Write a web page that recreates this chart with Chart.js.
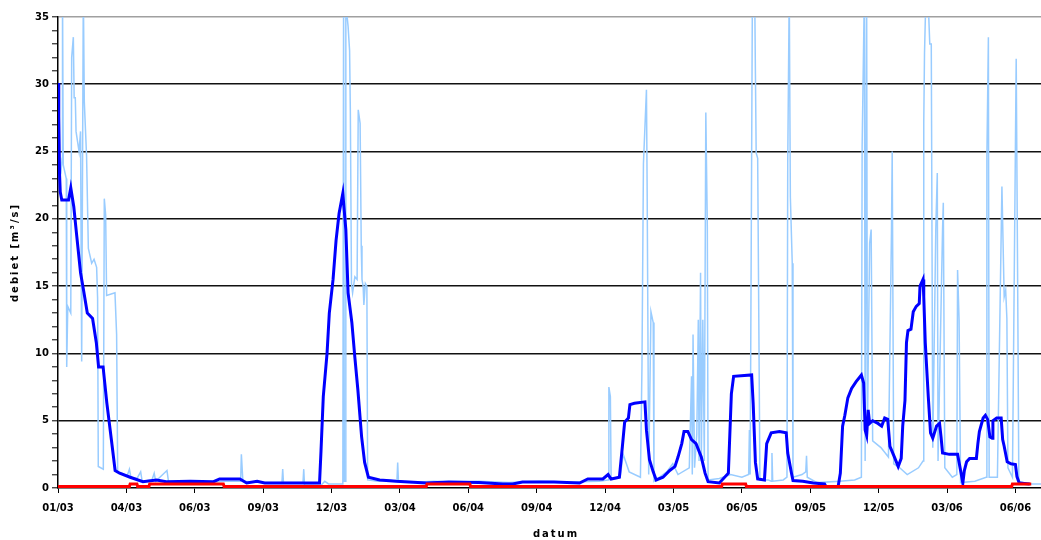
<!DOCTYPE html>
<html>
<head>
<meta charset="utf-8">
<script src="https://cdn.jsdelivr.net/npm/chart.js@4.4.1/dist/chart.umd.min.js"></script>
<style>
    html, body { margin: 0; padding: 0; background: #fff; }
    #wrap { width: 1041px; height: 540px; position: relative; }
</style>
</head>
<body>
<div id="wrap"><canvas id="chart"></canvas></div>
<script>
// x = days since 01/03, y = debiet in m3/s
const tickLabels = ['01/03','04/03','06/03','09/03','12/03','03/04','06/04','09/04','12/04','03/05','06/05','09/05','12/05','03/06','06/06'];
const tickStep = 91;
const xMax = 1308;

// daily measured flow (light blue)
const dailyFlow = [
    [0,24],[4,23.5],[5.5,24.5],[6,37],[7,24],[11,23],[11.6,9],[13,13.5],[17,13],[18.2,32],[20.4,33.5],[21.5,29],[23,29],
    [24,26.5],[28,25],[30,26.5],[31.5,9.4],[33.7,37],[35,28.7],[38,24.7],[40.4,17.8],[44.8,16.7],[48,17],[51.4,16.4],
    [52.7,14.1],[53.6,1.6],[60.3,1.4],[61.6,21.5],[63.4,20.3],[64.7,14.3],[75.8,14.5],[78,11.4],[79.4,1.2],
    [85,1.1],[92,0.9],[95,1.4],[97,0.8],[105,0.7],[110,1.2],[112,0.5],[125,0.6],[128,1.1],[130,0.5],[145,1.3],[147,0.5],
    [165,0.4],[185,0.5],[200,0.4],[220,0.5],[243,0.5],[244,2.5],[246,0.5],[270,0.4],[298,0.4],[299,1.4],[300,0.4],
    [326,0.4],[327,1.4],[328,0.2],[350,0.2],[355,0.5],[360,0.3],[379,0.3],[380,36],[381,0.5],[382.5,0.5],[383,36],
    [386,34.3],[388,32.5],[389,28],[390.5,15.2],[392,14.5],[395,15.7],[398,15.5],[399.5,28.1],[402,27.1],[403.5,18],
    [404.5,15.5],[406,15],[407,13.6],[409,15.2],[411,15],[412,0.6],[425,0.5],[440,0.6],[451,0.5],[452,1.9],[453,0.5],
    [470,0.4],[500,0.5],[530,0.4],[560,0.5],[600,0.4],[640,0.5],[680,0.45],[720,0.5],[732,0.6],[733,7.5],[735,6.8],
    [736,0.7],[748,0.8],[752,2.5],[760,1.2],[775,0.8],[777,8.9],[779,24.1],[783,29.6],[784,21.6],[786,1.0],[789,13.1],
    [792,12.3],[793,0.5],[810,1.2],[818,1.8],[825,1.0],[840,1.5],[843,8.3],[844,1],[845,11.4],[847,1.5],[850,4],
    [852,12.5],[853,2],[855,16.0],[856,2],[858,12.5],[860,2],[862,27.9],[864,19.4],[865,0.6],[880,0.7],[895,1.0],
    [910,0.8],[919,1],[920,4.3],[921,1],[924,37],[927,37],[928,30.8],[929,24.9],[931,24.5],[934,0.6],[945,0.6],
    [949,0.5],[950,2.6],[951,0.5],[965,0.6],[970,0.8],[971,24.1],[973,37],[974.5,21.6],[977,16.7],[978,0.8],[990,1.0],
    [995,1.2],[996,2.4],[997,0.8],[1010,0.4],[1040,0.5],[1060,0.6],[1069,0.8],[1070,25.4],[1073,37],[1074,2],[1076,37],
    [1077,4],[1080,18.2],[1082,19.2],[1084,3.5],[1095,3.0],[1105,2.3],[1109,18.9],[1110,25.0],[1112,1.8],[1120,1.5],
    [1130,1.0],[1145,1.5],[1151,2],[1152,27.1],[1153,32.3],[1155,37],[1158,36],[1160,33],[1162,33],[1164,3],[1168,19.2],
    [1170,23.4],[1171,2],[1177,19.2],[1178,21.2],[1180,1.5],[1190,0.8],[1196,1],[1197,16.2],[1199,12.5],[1201,0.4],
    [1220,0.5],[1235,0.8],[1236,24.6],[1238,33.5],[1239,0.8],[1250,0.8],[1256,22.4],[1259,14.2],[1261,14.7],
    [1262.6,12.6],[1264,1.5],[1270,0.8],[1275,31.9],[1277,14.7],[1278.5,0.5],[1290,0.3],[1308,0.3]
];

// smoothed flow (dark blue)
const smoothFlow = [
    [0,30.1],[1,27.6],[2,23.4],[3,22.0],[5,21.4],[14,21.4],[17,22.3],[21,20.9],[25,18.7],[30,16.0],[34,14.7],[39,13.0],
    [46,12.6],[51,10.8],[54,9.0],[60,9.0],[65,6.3],[71,3.6],[76,1.3],[82,1.1],[96,0.8],[113,0.47],[131,0.6],[144,0.47],
    [176,0.5],[207,0.47],[215,0.67],[242,0.67],[251,0.37],[265,0.5],[275,0.37],[348,0.37],[350,2.8],[353,6.8],[358,10],
    [361,13],[366,15.5],[370,18.4],[374,20.4],[379,21.9],[380,21.2],[383,19.2],[386,14.5],[391,12.3],[395,9.7],[399,7.3],
    [404,3.8],[408,1.9],[413,0.8],[428,0.6],[450,0.5],[490,0.37],[520,0.45],[560,0.4],[592,0.3],[605,0.3],[618,0.45],
    [660,0.45],[694,0.37],[705,0.67],[725,0.67],[732,1.0],[736,0.67],[747,0.8],[751,3.1],[754,4.9],[759,5.2],[761,6.2],
    [767,6.3],[781,6.4],[783,4.3],[787,2.1],[792,1.2],[796,0.6],[805,0.8],[814,1.3],[821,1.6],[825,2.3],[830,3.3],
    [833,4.2],[838,4.2],[843,3.6],[849,3.3],[856,2.3],[861,1.1],[865,0.47],[880,0.37],[892,1.1],[896,7.0],[899,8.3],
    [923,8.4],[925,6.3],[928,1.9],[931,0.67],[940,0.6],[943,3.3],[949,4.1],[960,4.2],[969,4.1],[971,2.6],[976,1.1],
    [978,0.55],[991,0.5],[1005,0.37],[1020,0.3],[1022,0.1],[1038,0.1],[1041,1.1],[1044,4.6],[1047,5.4],[1051,6.7],
    [1056,7.4],[1062,7.9],[1069,8.4],[1072,7.8],[1074,4.3],[1076,3.9],[1078,5.8],[1080,4.8],[1084,5.0],[1091,4.8],
    [1096,4.6],[1100,5.2],[1104,5.1],[1107,3.1],[1113,2.3],[1118,1.6],[1122,2.2],[1124,4.6],[1127,6.5],[1129,10.8],
    [1131,11.7],[1135,11.8],[1138,13.1],[1142,13.5],[1146,13.7],[1147,15.0],[1151,15.5],[1152,14.2],[1154,10.8],
    [1158,6.8],[1161,4.1],[1164,3.7],[1169,4.6],[1173,4.8],[1175,3.8],[1177,2.6],[1186,2.5],[1197,2.5],[1201,1.3],
    [1204,0.37],[1206,1.3],[1209,1.95],[1213,2.2],[1222,2.2],[1224,3.3],[1226,4.2],[1231,5.2],[1234,5.4],[1237,5.1],
    [1240,3.8],[1243,3.7],[1244,5.0],[1249,5.2],[1255,5.2],[1257,3.6],[1259,3.1],[1263,1.95],[1268,1.8],[1274,1.75],
    [1276,0.85],[1279,0.37],[1293,0.3]
];

// base flow (red)
const baseFlow = [
    [0,0.12],[95,0.12],[96,0.3],[105,0.3],[106,0.12],[121,0.12],[122,0.3],[220,0.3],[221,0.12],[490,0.12],[491,0.3],
    [548,0.3],[549,0.12],[883,0.12],[884,0.3],[915,0.3],[916,0.12],[1269,0.12],[1270,0.3],[1295,0.3]
];

const yTitle = 'debiet [m³/s]';
const xTitle = 'datum';

const toXY = arr => arr.map(([x, y]) => ({ x, y }));

const axisTitles = {
    id: 'axisTitles',
    afterDraw(chart) {
        const { ctx, chartArea } = chart;
        ctx.save();
        ctx.font = 'bold 10px "DejaVu Sans"';
        ctx.fillStyle = '#000';
        ctx.letterSpacing = '2px';
        ctx.textAlign = 'center';
        ctx.textBaseline = 'middle';
        ctx.save();
        ctx.translate(15, (chartArea.top + chartArea.bottom) / 2);
        ctx.rotate(-Math.PI / 2);
        ctx.fillText(yTitle, 0, 0);
        ctx.restore();
        ctx.fillText(xTitle, 556, 534);
        ctx.restore();
    }
};

Chart.defaults.font.family = '"DejaVu Sans", Verdana, sans-serif';
Chart.defaults.font.size = 10;
Chart.defaults.font.weight = 'bold';
Chart.defaults.color = '#000';

new Chart(document.getElementById('chart'), {
    type: 'line',
    data: {
        datasets: [
            { data: toXY(baseFlow), borderColor: '#ff0000', borderWidth: 3, order: 0 },
            { data: toXY(smoothFlow), borderColor: '#0000ff', borderWidth: 3, order: 1 },
            { data: toXY(dailyFlow), borderColor: '#99ccff', borderWidth: 1.5, order: 2 },
        ]
    },
    options: {
        responsive: true,
        maintainAspectRatio: false,
        animation: false,
        parsing: false,
        elements: { point: { radius: 0 }, line: { tension: 0, borderJoinStyle: 'miter' } },
        layout: { padding: { top: 17, right: 0, bottom: 0, left: 0 } },
        plugins: { legend: { display: false }, tooltip: { enabled: false } },
        scales: {
            x: {
                type: 'linear',
                min: 0,
                max: xMax,
                afterBuildTicks: scale => {
                    scale.ticks = tickLabels.map((_, i) => ({ value: i * tickStep }));
                },
                afterFit: scale => { scale.height = 52; },
                ticks: {
                    autoSkip: false,
                    maxRotation: 0,
                    padding: 9,
                    callback: (v, i) => tickLabels[i],
                },
                grid: { drawOnChartArea: false, tickLength: 5, tickColor: '#000', tickWidth: 1 },
                border: { color: '#000', width: 1.6 },
            },
            y: {
                min: 0,
                max: 35,
                afterFit: scale => { scale.width = 58; },
                ticks: {
                    stepSize: 1,
                    autoSkip: false,
                    padding: 3,
                    callback: v => (v % 5 === 0 ? v : ''),
                },
                grid: {
                    color: c => {
                        const v = c.tick.value;
                        if (v === 35) return '#a0a0a0';
                        return (v % 5 === 0 && v > 0) ? '#111' : 'rgba(0,0,0,0)';
                    },
                    lineWidth: 1.6,
                    tickColor: '#000',
                    tickLength: 6,
                    tickWidth: 1,
                },
                border: { color: '#000', width: 1.5 },
            }
        }
    },
    plugins: [axisTitles]
});
</script>
</body>
</html>
